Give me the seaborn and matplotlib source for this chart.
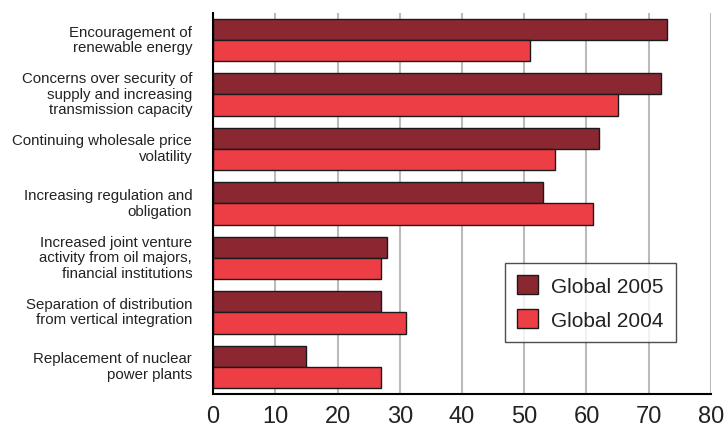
import matplotlib
matplotlib.use("Agg")
import matplotlib.pyplot as plt
import matplotlib.transforms as mtransforms
import seaborn as sns
import pandas as pd

categories = [
    "Encouragement of\nrenewable energy",
    "Concerns over security of\nsupply and increasing\ntransmission capacity",
    "Continuing wholesale price\nvolatility",
    "Increasing regulation and\nobligation",
    "Increased joint venture\nactivity from oil majors,\nfinancial institutions",
    "Separation of distribution\nfrom vertical integration",
    "Replacement of nuclear\npower plants",
]
series_names = ["Global 2005", "Global 2004"]
values_2005 = [73, 72, 62, 53, 28, 27, 15]
values_2004 = [51, 65, 55, 61, 27, 31, 27]
x_ticks = [0, 10, 20, 30, 40, 50, 60, 70, 80]

colors = ["#8A2731", "#EE3E45"]

df = pd.DataFrame({
    "category": categories * 2,
    "value": values_2005 + values_2004,
    "series": [series_names[0]] * len(categories) + [series_names[1]] * len(categories),
})

sns.set_style("white")
plt.rcParams["font.family"] = ["Liberation Sans", "DejaVu Sans"]

fig = plt.figure(figsize=(7.28, 4.27), dpi=100)
ax = fig.add_axes([0.2926, 0.075, 0.684, 0.8927])

sns.barplot(data=df, y="category", x="value", hue="series", order=categories,
            hue_order=series_names, palette=colors, orient="h", width=0.78,
            edgecolor="#1a1a1a", linewidth=1.0, ax=ax, saturation=1)

ax.set_xlim(0, 80)
ax.set_ylim(6.5, -0.5)
ax.set_xticks(x_ticks)
ax.set_xticklabels([str(t) for t in x_ticks], fontsize=17)
ax.tick_params(axis="x", length=0, pad=8, colors="#222222")
ax.tick_params(axis="y", length=0, pad=15)
offset = mtransforms.ScaledTranslation(0, 3 / 100, fig.dpi_scale_trans)
for lab in ax.get_yticklabels():
    lab.set_fontsize(10.8)
    lab.set_color("#222222")
    lab.set_horizontalalignment("right")
    lab.set_linespacing(1.15)
    lab.set_transform(lab.get_transform() + offset)
ax.set_xlabel("")
ax.set_ylabel("")
ax.xaxis.grid(True, color="#BBBBBB", linewidth=1.5)
ax.set_axisbelow(True)
for s in ["top", "right"]:
    ax.spines[s].set_visible(False)
for s in ["left", "bottom"]:
    ax.spines[s].set_visible(True)
    ax.spines[s].set_color("black")
    ax.spines[s].set_linewidth(1.5)

leg = ax.legend(loc="lower left", bbox_to_anchor=(0.586, 0.136), fontsize=15,
                frameon=True, fancybox=False, edgecolor="#222222",
                handlelength=1.0, handleheight=1.0, labelspacing=0.65,
                borderpad=0.6, handletextpad=0.6, borderaxespad=0)
leg.get_frame().set_linewidth(1.0)
for t in leg.get_texts():
    t.set_color("#222222")

fig.savefig("out.png", dpi=100)
